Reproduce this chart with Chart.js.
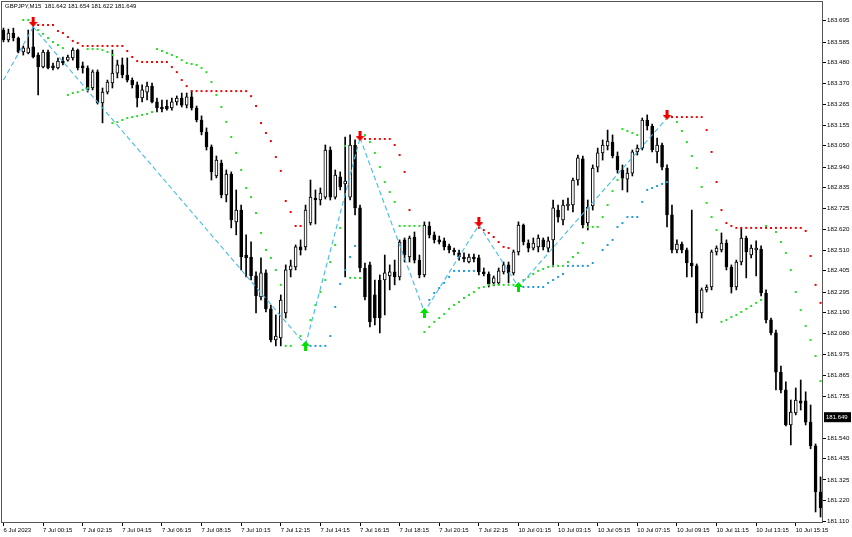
<!DOCTYPE html>
<html>
<head>
<meta charset="utf-8">
<script src="https://cdn.jsdelivr.net/npm/chart.js@4.4.0/dist/chart.umd.min.js"></script>
<style>
  html, body { margin: 0; padding: 0; background: #fff; }
  #wrap { position: relative; width: 852px; height: 537px; }
</style>
</head>
<body>
<div id="wrap"><canvas id="chart"></canvas></div>
<script>
// ── DATA ──────────────────────────────────────────────────────────────────

const symbolTitle = 'GBPJPY,M15  181.642 181.654 181.622 181.649';
const lastPrice   = 181.649;

const timeLabels = ['6 Jul 2023', '7 Jul 00:15', '7 Jul 02:15', '7 Jul 04:15', '7 Jul 06:15',
  '7 Jul 08:15', '7 Jul 10:15', '7 Jul 12:15', '7 Jul 14:15', '7 Jul 16:15', '7 Jul 18:15',
  '7 Jul 20:15', '7 Jul 22:15', '10 Jul 01:15', '10 Jul 03:15', '10 Jul 05:15', '10 Jul 07:15',
  '10 Jul 09:15', '10 Jul 11:15', '10 Jul 13:15', '10 Jul 15:15'];
const labelEvery = 8;

const yTicks = [183.695, 183.585, 183.480, 183.370, 183.265, 183.155, 183.050, 182.940, 182.835,
  182.725, 182.620, 182.510, 182.405, 182.295, 182.190, 182.080, 181.975, 181.865, 181.755,
  181.540, 181.435, 181.325, 181.220, 181.110];

const open = [
  183.647, 183.596, 183.632, 183.606, 183.534, 183.529, 183.560, 183.518, 183.457, 183.534,
  183.462, 183.451, 183.487, 183.492, 183.503, 183.544, 183.462, 183.451, 183.348, 183.431,
  183.271, 183.327, 183.374, 183.425, 183.467, 183.415, 183.389, 183.364, 183.297, 183.327,
  183.358, 183.276, 183.250, 183.255, 183.245, 183.276, 183.296, 183.260, 183.302, 183.245,
  183.183, 183.121, 183.044, 182.894, 182.961, 182.796, 182.904, 182.657, 182.718, 182.486,
  182.476, 182.378, 182.270, 182.394, 182.208, 182.048, 182.058, 182.187, 182.409, 182.425,
  182.528, 182.528, 182.652, 182.780, 182.770, 182.785, 183.028, 182.785, 182.889, 182.853,
  182.785, 183.054, 182.729, 182.419, 182.435, 182.280, 182.357, 182.357, 182.378, 182.399,
  182.373, 182.564, 182.476, 182.579, 182.460, 182.383, 182.636, 182.590, 182.564, 182.559,
  182.533, 182.512, 182.497, 182.476, 182.450, 182.476, 182.471, 182.399, 182.388, 182.342,
  182.342, 182.399, 182.435, 182.394, 182.502, 182.641, 182.548, 182.522, 182.528, 182.564,
  182.522, 182.564, 182.718, 182.667, 182.739, 182.744, 182.873, 182.982, 182.652, 182.739,
  182.940, 183.013, 183.049, 183.069, 182.997, 182.925, 182.878, 182.909, 183.018, 183.038,
  183.183, 183.152, 183.018, 183.054, 182.935, 182.693, 182.512, 182.543, 182.512, 182.445,
  182.430, 182.187, 182.306, 182.321, 182.502, 182.512, 182.548, 182.424, 182.321, 182.450,
  182.574, 182.486, 182.512, 182.517, 182.290, 182.151, 182.084, 181.882, 181.790, 181.609,
  181.671, 181.733, 181.733, 181.624, 181.501, 181.264
];
const close = [
  183.596, 183.632, 183.606, 183.534, 183.555, 183.555, 183.508, 183.457, 183.534, 183.451,
  183.451, 183.487, 183.477, 183.508, 183.544, 183.451, 183.451, 183.338, 183.431, 183.271,
  183.327, 183.379, 183.425, 183.467, 183.415, 183.389, 183.364, 183.297, 183.338, 183.358,
  183.276, 183.245, 183.240, 183.240, 183.276, 183.296, 183.260, 183.302, 183.245, 183.183,
  183.121, 183.044, 182.915, 182.976, 182.796, 182.904, 182.667, 182.718, 182.476, 182.471,
  182.378, 182.275, 182.394, 182.208, 182.048, 182.068, 182.254, 182.409, 182.430, 182.528,
  182.512, 182.718, 182.785, 182.770, 182.806, 183.028, 182.785, 182.899, 182.837, 182.868,
  183.054, 182.729, 182.419, 182.270, 182.141, 182.161, 182.161, 182.394, 182.399, 182.373,
  182.553, 182.486, 182.574, 182.460, 182.383, 182.641, 182.590, 182.564, 182.553, 182.528,
  182.512, 182.502, 182.476, 182.466, 182.476, 182.466, 182.399, 182.388, 182.337, 182.368,
  182.404, 182.435, 182.394, 182.502, 182.641, 182.553, 182.522, 182.548, 182.574, 182.528,
  182.559, 182.729, 182.682, 182.744, 182.749, 182.873, 182.987, 182.641, 182.734, 182.935,
  183.013, 183.054, 183.074, 182.997, 182.925, 182.883, 182.909, 183.018, 183.038, 183.183,
  183.152, 183.028, 183.054, 182.940, 182.693, 182.512, 182.543, 182.512, 182.445, 182.430,
  182.187, 182.306, 182.321, 182.502, 182.522, 182.548, 182.424, 182.321, 182.450, 182.574,
  182.502, 182.522, 182.522, 182.290, 182.151, 182.084, 181.882, 181.790, 181.609, 181.676,
  181.738, 181.722, 181.624, 181.501, 181.264, 181.181
];
const high = [
  183.657, 183.652, 183.657, 183.611, 183.565, 183.647, 183.663, 183.529, 183.544, 183.544,
  183.477, 183.503, 183.508, 183.518, 183.555, 183.549, 183.482, 183.462, 183.441, 183.441,
  183.348, 183.389, 183.544, 183.492, 183.503, 183.503, 183.400, 183.379, 183.364, 183.379,
  183.374, 183.296, 183.286, 183.286, 183.296, 183.307, 183.322, 183.322, 183.333, 183.255,
  183.204, 183.142, 183.054, 182.997, 182.976, 182.925, 182.915, 182.822, 182.744, 182.590,
  182.554, 182.399, 182.471, 182.409, 182.228, 182.177, 182.280, 182.435, 182.460, 182.538,
  182.564, 182.744, 182.873, 182.822, 182.832, 183.054, 183.044, 182.925, 182.915, 183.095,
  183.106, 183.080, 182.744, 182.445, 182.450, 182.357, 182.383, 182.486, 182.435, 182.460,
  182.564, 182.574, 182.584, 182.605, 182.486, 182.657, 182.657, 182.605, 182.584, 182.574,
  182.543, 182.522, 182.512, 182.497, 182.491, 182.491, 182.486, 182.419, 182.399, 182.378,
  182.419, 182.450, 182.450, 182.512, 182.657, 182.646, 182.564, 182.574, 182.590, 182.574,
  182.579, 182.770, 182.744, 182.770, 182.780, 182.883, 183.002, 182.997, 182.770, 182.951,
  183.038, 183.080, 183.131, 183.106, 183.018, 182.951, 182.935, 183.028, 183.054, 183.193,
  183.209, 183.162, 183.090, 183.064, 182.951, 182.744, 182.564, 182.553, 182.522, 182.718,
  182.440, 182.316, 182.332, 182.512, 182.533, 182.600, 182.564, 182.435, 182.460, 182.626,
  182.584, 182.538, 182.559, 182.533, 182.306, 182.161, 182.099, 181.913, 181.831, 181.738,
  181.800, 181.841, 181.780, 181.712, 181.511, 181.341
];
const low = [
  183.586, 183.586, 183.591, 183.529, 183.518, 183.524, 183.503, 183.312, 183.451, 183.446,
  183.441, 183.446, 183.467, 183.487, 183.492, 183.441, 183.425, 183.327, 183.338, 183.265,
  183.168, 183.317, 183.348, 183.400, 183.400, 183.379, 183.348, 183.250, 183.276, 183.286,
  183.271, 183.224, 183.224, 183.234, 183.234, 183.260, 183.250, 183.245, 183.234, 183.173,
  183.106, 183.028, 182.873, 182.884, 182.781, 182.760, 182.626, 182.590, 182.409, 182.373,
  182.357, 182.187, 182.254, 182.192, 182.038, 182.017, 182.017, 182.161, 182.373, 182.409,
  182.486, 182.512, 182.641, 182.646, 182.744, 182.775, 182.770, 182.775, 182.822, 182.373,
  182.770, 182.693, 182.399, 182.254, 182.115, 182.125, 182.084, 182.177, 182.306, 182.332,
  182.357, 182.450, 182.450, 182.445, 182.368, 182.373, 182.574, 182.548, 182.543, 182.512,
  182.497, 182.486, 182.460, 182.450, 182.445, 182.450, 182.383, 182.378, 182.321, 182.327,
  182.332, 182.388, 182.342, 182.383, 182.486, 182.538, 182.502, 182.512, 182.502, 182.512,
  182.502, 182.424, 182.656, 182.641, 182.718, 182.708, 182.847, 182.626, 182.615, 182.718,
  182.915, 182.976, 183.028, 182.987, 182.909, 182.822, 182.811, 182.894, 183.002, 183.028,
  183.131, 183.018, 182.961, 182.925, 182.631, 182.497, 182.497, 182.497, 182.373, 182.373,
  182.135, 182.161, 182.295, 182.306, 182.486, 182.502, 182.409, 182.290, 182.306, 182.435,
  182.368, 182.471, 182.378, 182.275, 182.135, 182.074, 181.790, 181.774, 181.604, 181.506,
  181.661, 181.686, 181.609, 181.486, 181.160, 181.134
];

// indicator dots: [first bar index, values...]
const redDots = [
  [6, [183.673, 183.673, 183.673, 183.673, 183.673, 183.642, 183.632, 183.611, 183.591, 183.580,
       183.565, 183.565, 183.565, 183.565, 183.565, 183.565, 183.565, 183.565, 183.565,
       183.539, 183.508, 183.487, 183.482, 183.482, 183.482, 183.482, 183.482, 183.482,
       183.456, 183.430, 183.389, 183.358,
       183.332, 183.332, 183.332, 183.332, 183.332, 183.332, 183.332, 183.332, 183.332, 183.332, 183.332, 183.332,
       183.306, 183.255, 183.167, 183.116, 183.074, 182.992, 182.920, 182.765, 182.708, 182.636, 182.636]],
  [72, [183.085, 183.085, 183.085, 183.085, 183.085, 183.085, 183.085, 183.054, 183.002, 182.915, 182.718]],
  [96, [182.626, 182.615, 182.600, 182.579, 182.553, 182.528, 182.522]],
  [134, [183.198, 183.198, 183.198, 183.198, 183.198, 183.198, 183.198, 183.198,
         183.131, 183.018, 182.863, 182.718, 182.651, 182.636,
         182.626, 182.626, 182.626, 182.626, 182.626, 182.626, 182.626, 182.626, 182.626, 182.626,
         182.626, 182.626, 182.626, 182.626, 182.610, 182.481, 182.332, 182.239]]
];
const greenUpperDots = [
  [4, [183.699, 183.699]],
  [7, [183.647, 183.627, 183.606, 183.585, 183.570, 183.554]],
  [17, [183.549, 183.549, 183.549, 183.544, 183.534, 183.518]],
  [31, [183.549, 183.539, 183.529, 183.518, 183.508, 183.492, 183.477, 183.472, 183.467, 183.451,
        183.430, 183.379, 183.312, 183.250, 183.173, 183.095, 183.013, 182.925, 182.832, 182.785,
        182.703, 182.600, 182.512, 182.471, 182.409, 182.332]],
  [72, [183.105, 183.105, 183.069, 183.013, 182.940, 182.863, 182.811, 182.760,
        182.636, 182.636, 182.636, 182.636, 182.636]],
  [125, [183.136, 183.126, 183.116, 183.105]],
  [135, [183.198, 183.172, 183.126, 183.069, 182.997, 182.935, 182.837, 182.755, 182.682, 182.615]],
  [154, [182.636, 182.626, 182.605, 182.553, 182.497, 182.409, 182.295, 182.202, 182.120, 182.048,
         181.965, 181.836]]
];
const greenLowerDots = [
  [13, [183.312, 183.322, 183.327, 183.338, 183.348]],
  [22, [183.167, 183.172, 183.183, 183.193, 183.198, 183.203, 183.209, 183.214, 183.224]],
  [57, [182.017, 182.017]],
  [60, [182.068]],
  [62, [182.151, 182.228, 182.295, 182.357, 182.450, 182.538, 182.626, 183.049, 182.368, 182.368, 182.368]],
  [85, [182.089, 182.115, 182.141, 182.161, 182.182, 182.208, 182.228, 182.244, 182.264, 182.280,
        182.295, 182.316, 182.321, 182.332, 182.332, 182.332, 182.332, 182.332, 182.332]],
  [105, [182.357, 182.373, 182.388, 182.404, 182.414, 182.424, 182.430, 182.430, 182.430, 182.450,
         182.476, 182.497, 182.548, 182.631, 182.631, 182.631, 182.682, 182.744, 182.816, 182.873]],
  [145, [182.141, 182.151, 182.166, 182.177, 182.192, 182.208, 182.223, 182.239, 182.254]]
];
const blueDots = [
  [62, [182.017, 182.017, 182.017, 182.017, 182.068, 182.218, 182.337, 182.409, 182.476, 182.533]],
  [86, [182.254, 182.290, 182.316, 182.342, 182.373, 182.404, 182.404, 182.404, 182.404, 182.404]],
  [105, [182.321, 182.321, 182.321, 182.321, 182.321, 182.342, 182.357, 182.373, 182.388,
         182.430, 182.430, 182.430, 182.430, 182.430, 182.445]],
  [121, [182.512, 182.538, 182.564, 182.631, 182.651, 182.682, 182.682, 182.682, 182.760,
         182.822, 182.832, 182.842, 182.853, 182.863]]
];

// zigzag pivots and arrows
const zigzagIdx     = [0, 6, 61, 72, 85, 96, 104, 134];
const zigzagVal     = [183.389, 183.663, 182.022, 183.090, 182.192, 182.641, 182.321, 183.193];
const zigzagLongLeg = [6, 61, 72];
const downArrowIdx  = [6, 72, 96, 134];
const downArrowVal  = [183.689, 183.100, 182.656, 183.209];
const upArrowIdx    = [61, 85, 104];
const upArrowVal    = [182.017, 182.187, 182.321];

// ── HELPERS ───────────────────────────────────────────────────────────────

const FONT = '"Liberation Sans", Arial, sans-serif';
const barCount = open.length;

function fromRuns(runs) {
  const out = new Array(barCount).fill(null);
  runs.forEach(([start, vals]) => vals.forEach((v, k) => { out[start + k] = v; }));
  return out;
}
function fromPoints(idx, vals) {
  const out = new Array(barCount).fill(null);
  idx.forEach((i, k) => { out[i] = vals[k]; });
  return out;
}
function arrowImage(color, up) {
  const c = document.createElement('canvas');
  c.width = 9; c.height = 10;
  const g = c.getContext('2d');
  g.fillStyle = color;
  g.beginPath();
  if (up) {
    g.moveTo(4.5, 0); g.lineTo(9, 5); g.lineTo(6, 5); g.lineTo(6, 10);
    g.lineTo(3, 10); g.lineTo(3, 5); g.lineTo(0, 5);
  } else {
    g.moveTo(4.5, 10); g.lineTo(9, 5); g.lineTo(6, 5); g.lineTo(6, 0);
    g.lineTo(3, 0); g.lineTo(3, 5); g.lineTo(0, 5);
  }
  g.closePath();
  g.fill();
  return c;
}
function dots(data, color) {
  return {
    type: 'line', data: data, showLine: false, order: 2,
    pointStyle: 'rect', pointRadius: 1.4, pointBorderWidth: 0,
    pointBackgroundColor: color
  };
}

// frame, symbol header and last-price box
const chartFrame = {
  id: 'chartFrame',
  afterDraw(chart) {
    const { ctx, chartArea: a, scales } = chart;
    ctx.save();
    ctx.strokeStyle = '#555';
    ctx.lineWidth = 1;
    ctx.strokeRect(Math.round(a.left) + .5, Math.round(a.top) + .5,
                   Math.round(a.right - a.left) - 1, Math.round(a.bottom - a.top) - 1);
    ctx.font = '6px ' + FONT;
    ctx.fillStyle = '#000';
    ctx.textBaseline = 'top';
    ctx.fillText(symbolTitle, a.left + 4, a.top + 2);
    const y = scales.y.getPixelForValue(lastPrice);
    ctx.fillRect(a.right + 1, y - 5, 27, 10);
    ctx.fillStyle = '#fff';
    ctx.textBaseline = 'middle';
    ctx.fillText(lastPrice.toFixed(3), a.right + 3, y);
    ctx.restore();
  }
};

// ── CHART ─────────────────────────────────────────────────────────────────

new Chart(document.getElementById('chart'), {
  data: {
    labels: open.map((_, i) => i),
    datasets: [
      {
        type: 'line', data: fromPoints(upArrowIdx, upArrowVal), showLine: false, order: 0,
        pointStyle: arrowImage('#00e000', true), pointRadius: 5
      },
      {
        type: 'line', data: fromPoints(downArrowIdx, downArrowVal), showLine: false, order: 0,
        pointStyle: arrowImage('#ee0000', false), pointRadius: 5
      },
      {
        type: 'line', data: fromPoints(zigzagIdx, zigzagVal), order: 1,
        spanGaps: true, pointRadius: 0, borderWidth: 1.1, borderColor: '#45bce6',
        segment: {
          borderDash: ctx => zigzagLongLeg.includes(ctx.p0DataIndex) ? [12, 5] : [5, 3]
        }
      },
      dots(fromRuns(redDots), '#ee0000'),
      dots(fromRuns(greenUpperDots), '#22dd22'),
      dots(fromRuns(greenLowerDots), '#22dd22'),
      dots(fromRuns(blueDots), '#1e9ae0'),
      {
        type: 'bar', data: open.map((o, i) => [o, close[i]]), order: 3, grouped: false,
        barThickness: 3, borderWidth: 1, borderSkipped: false, borderColor: '#000',
        backgroundColor: open.map((o, i) => close[i] >= o ? '#fff' : '#000')
      },
      {
        type: 'bar', data: low.map((l, i) => [l, high[i]]), order: 4, grouped: false,
        barThickness: 1, borderWidth: 0, backgroundColor: '#000'
      }
    ]
  },
  options: {
    responsive:          true,
    maintainAspectRatio: false,
    animation:           false,
    events:              [],
    layout: { autoPadding: false, padding: { top: 1, left: 1, right: 0, bottom: 0 } },
    plugins: {
      legend:  { display: false },
      tooltip: { enabled: false }
    },
    scales: {
      x: {
        type: 'category',
        afterFit: s => { s.height = 14; s.paddingLeft = 0; s.paddingRight = 0; },
        border: { display: false },
        grid: {
          drawOnChartArea: false, offset: false, tickLength: 3,
          color: ctx => ctx.index % labelEvery === 0 ? '#000' : 'rgba(0,0,0,0)'
        },
        ticks: {
          autoSkip: false, maxRotation: 0, minRotation: 0, align: 'start', padding: 1,
          color: '#000', font: { family: FONT, size: 6 },
          callback: (v, i) => i % labelEvery === 0 ? (timeLabels[i / labelEvery] || '') : ''
        }
      },
      y: {
        position: 'right',
        min: 181.103,
        max: 183.797,
        afterFit: s => { s.width = 29; s.paddingTop = 0; s.paddingBottom = 0; },
        afterBuildTicks: s => { s.ticks = yTicks.map(v => ({ value: v })); },
        border: { display: false },
        grid: { drawOnChartArea: false, tickLength: 3, color: '#000' },
        ticks: {
          padding: 1, color: '#000', font: { family: FONT, size: 6.2 },
          callback: v => Number(v).toFixed(3)
        }
      }
    }
  },
  plugins: [chartFrame]
});
</script>
</body>
</html>
